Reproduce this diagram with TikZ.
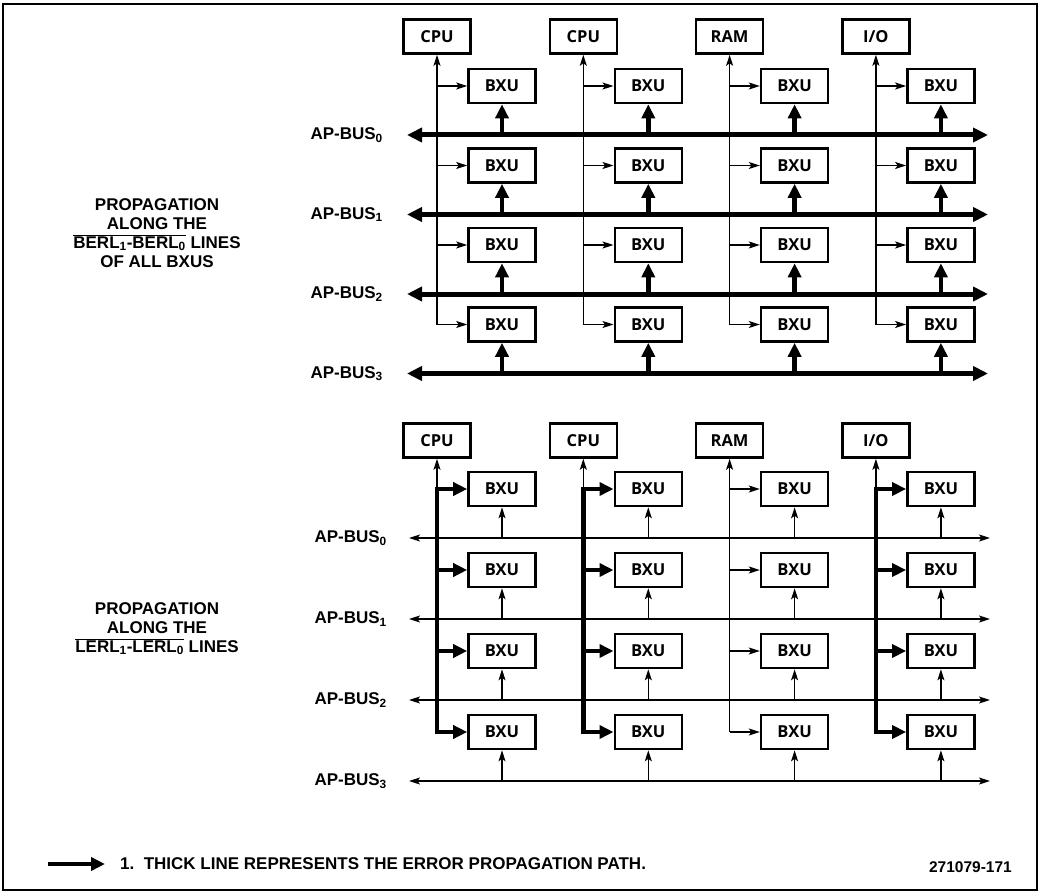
\documentclass[tikz,border=0pt]{standalone}
\usepackage{fontspec}
\setmainfont{Liberation Sans}
\newfontfamily\boxfont{Open Sans}
\usetikzlibrary{arrows.meta}
\begin{document}
\begin{tikzpicture}[x=1pt,y=-1pt,
  unit/.style={draw,line width=2.6pt,minimum width=67pt,minimum height=34pt,inner sep=0pt,
    font=\boxfont\bfseries\fontsize{16.5}{16.5}\selectfont},
  lbl/.style={font=\bfseries\fontsize{17}{19}\selectfont,inner sep=0pt},
  thinarr/.style={line width=1.3pt,-{Stealth[length=11pt,width=7pt,inset=2.5pt]}},
  thinbus/.style={line width=1.3pt,{Stealth[length=11pt,width=7pt,inset=2.5pt]}-{Stealth[length=11pt,width=7pt,inset=2.5pt]}},
  thickarr/.style={line width=4.5pt,-{Triangle[length=14pt,width=13pt]}},
  thickbus/.style={line width=5pt,{Triangle[length=15pt,width=14pt]}-{Triangle[length=15pt,width=14pt]}},
  thickline/.style={line width=4.5pt,line cap=rect}]
\useasboundingbox (0,0) rectangle (1043,893);
\draw[line width=2pt] (3,4) rectangle (1037,890);

% ---------- top section ----------
\foreach \r in {0,...,3}{
  \pgfmathsetmacro\BY{135+79.5*\r}
  \coordinate (tbl\r) at (407,\BY);
  \coordinate (tbr\r) at (988,\BY);
  \draw[thickbus] (tbl\r) -- (tbr\r);
  \node[lbl,anchor=east] (tlab\r) at (383,\BY) {AP-BUS\textsubscript{\r}};
}
\foreach \c/\name in {0/CPU,1/CPU,2/RAM,3/{I/O}}{
  \pgfmathsetmacro\X{437+146.3*\c}
  \node[unit] (tm\c) at (\X,36.5) {\name};
  \foreach \r in {0,...,3}{
    \pgfmathsetmacro\Y{86+79.5*\r}
    \node[unit] (tu\c\r) at (\X+65,\Y) {BXU};
    \coordinate (tj\c\r) at (\X,\Y);
    \coordinate (tp\c\r) at (\X+65,\Y+49);
    \draw[thinarr] (tj\c\r) -- (tu\c\r.west);
    \draw[thickarr] (tp\c\r) -- (tu\c\r.south);
  }
  \draw[thinarr] (tj\c3) -- (tm\c.south);
}
\node[lbl,align=center] (tdesc) at (157,233)
  {PROPAGATION\\ALONG THE\\$\overline{\mbox{BERL\textsubscript{1}-BERL\textsubscript{0}}}$ LINES\\OF ALL BXUS};

% ---------- bottom section ----------
\foreach \r in {0,...,3}{
  \pgfmathsetmacro\BY{538+81*\r}
  \coordinate (bbl\r) at (409,\BY);
  \coordinate (bbr\r) at (990,\BY);
  \draw[thinbus] (bbl\r) -- (bbr\r);
  \node[lbl,anchor=east] (blab\r) at (387,\BY) {AP-BUS\textsubscript{\r}};
}
\foreach \c/\name/\thk in {0/CPU/1,1/CPU/1,2/RAM/0,3/{I/O}/1}{
  \pgfmathsetmacro\X{437+146.3*\c}
  \node[unit] (bm\c) at (\X,440.5) {\name};
  \foreach \r in {0,...,3}{
    \pgfmathsetmacro\Y{489+81*\r}
    \node[unit] (bu\c\r) at (\X+65,\Y) {BXU};
    \coordinate (bj\c\r) at (\X,\Y);
    \coordinate (bp\c\r) at (\X+65,\Y+49);
    \draw[thinarr] (bp\c\r) -- (bu\c\r.south);
    \ifnum\thk=1
      \draw[thickarr] (bj\c\r) -- (bu\c\r.west);
    \else
      \draw[thinarr] (bj\c\r) -- (bu\c\r.west);
    \fi
  }
  \ifnum\thk=1
    \draw[thickline] (bj\c0) -- (bj\c3);
    \draw[thinarr] (bj\c0) -- (bm\c.south);
  \else
    \draw[thinarr] (bj\c3) -- (bm\c.south);
  \fi
}
\node[lbl,align=center] (bdesc) at (157,628.5)
  {PROPAGATION\\ALONG THE\\$\overline{\mbox{LERL\textsubscript{1}-LERL\textsubscript{0}}}$ LINES};

% ---------- footnote ----------
\coordinate (fa) at (48,864);
\coordinate (fb) at (105,864);
\draw[thickarr] (fa) -- (fb);
\node[lbl,anchor=west] (fn) at (120,864) {1.\ \ THICK LINE REPRESENTS THE ERROR PROPAGATION PATH.};
\node[lbl,anchor=east,font=\bfseries\fontsize{15.5}{17}\selectfont] (fig) at (1012,867) {271079-171};
\end{tikzpicture}
\end{document}
